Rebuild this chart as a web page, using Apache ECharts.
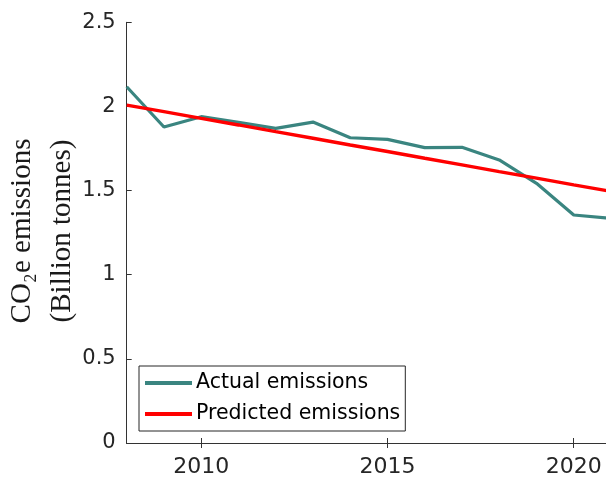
<!DOCTYPE html>
<html>
<head>
<meta charset="utf-8">
<script src="https://cdn.jsdelivr.net/npm/echarts@6/dist/echarts.min.js"></script>
<style>
  html, body { margin: 0; padding: 0; overflow: hidden; background: #fff; }
  #chart { width: 612px; height: 479px; }
</style>
</head>
<body>
<div id="chart"></div>
<script>
// Annual CO2e emissions (billion tonnes), 2008-2021
const years = [2008, 2009, 2010, 2011, 2012, 2013, 2014, 2015, 2016, 2017, 2018, 2019, 2020, 2021];
const actual = [2.117, 1.878, 1.939, 1.905, 1.870, 1.907, 1.814, 1.804, 1.755, 1.757, 1.682, 1.543, 1.355, 1.335];
const predicted = [2.008, 1.969, 1.929, 1.890, 1.850, 1.811, 1.771, 1.732, 1.692, 1.653, 1.613, 1.574, 1.534, 1.495];
const xTicks = [2010, 2015, 2020];
const yTicks = [0, 0.5, 1, 1.5, 2, 2.5];

const axisColor = '#333333';
const sansFont = 'DejaVu Sans, Verdana, sans-serif';

const chart = echarts.init(document.getElementById('chart'), null, { renderer: 'canvas' });

const pairs = (ys) => years.map((y, i) => [y, ys[i]]);

chart.setOption({
  animation: false,
  backgroundColor: '#ffffff',
  grid: { left: 126.7, top: 22.3, right: 1, bottom: 36, containLabel: false },
  xAxis: [
    {
      type: 'value', position: 'bottom', min: 2008, max: 2021,
      axisLine: { show: true, lineStyle: { color: axisColor, width: 1 } },
      axisTick: { show: true, inside: true, length: 5, customValues: xTicks, lineStyle: { color: axisColor } },
      axisLabel: {
        show: true, customValues: xTicks, margin: 13,
        fontFamily: sansFont, fontSize: 22, color: '#262626',
        formatter: v => String(v)
      },
      splitLine: { show: false }
    },
    {
      type: 'value', position: 'top', min: 2008, max: 2021,
      axisLine: { show: true, lineStyle: { color: axisColor, width: 1 } },
      axisTick: { show: true, inside: true, length: 5, customValues: xTicks, lineStyle: { color: axisColor } },
      axisLabel: { show: false },
      splitLine: { show: false }
    }
  ],
  yAxis: [
    {
      type: 'value', position: 'left', min: 0, max: 2.5, interval: 0.5,
      axisLine: { show: true, lineStyle: { color: axisColor, width: 1 } },
      axisTick: { show: true, inside: true, length: 5, lineStyle: { color: axisColor } },
      axisLabel: {
        show: true, customValues: yTicks, margin: 11,
        fontFamily: sansFont, fontSize: 21, color: '#262626',
        formatter: v => String(v)
      },
      splitLine: { show: false }
    },
    {
      type: 'value', position: 'right', min: 0, max: 2.5, interval: 0.5,
      axisLine: { show: true, lineStyle: { color: axisColor, width: 1 } },
      axisTick: { show: true, inside: true, length: 5, lineStyle: { color: axisColor } },
      axisLabel: { show: false },
      splitLine: { show: false }
    }
  ],
  legend: {
    orient: 'vertical',
    left: 139, top: 366,
    backgroundColor: '#ffffff',
    borderColor: '#262626', borderWidth: 1, borderRadius: 0,
    padding: [4, 5, 4, 6],
    itemGap: 5,
    itemWidth: 47, itemHeight: 4,
    icon: 'rect',
    textStyle: { fontFamily: sansFont, fontSize: 20.5, color: '#000', lineHeight: 26, padding: [0, 0, 0, -1] },
    data: ['Actual emissions', 'Predicted emissions']
  },
  graphic: [
    {
      type: 'text',
      x: 42, y: 231,
      rotation: Math.PI / 2,
      style: {
        text: 'CO\u2082e emissions\n(Billion tonnes)',
        align: 'center', verticalAlign: 'middle',
        fontFamily: 'Liberation Serif, DejaVu Serif, serif',
        fontSize: 29, lineHeight: 40, fill: '#1a1a1a'
      }
    }
  ],
  series: [
    {
      name: 'Actual emissions', type: 'line',
      data: pairs(actual),
      symbol: 'none', showSymbol: false,
      lineStyle: { color: '#3a8580', width: 3.2 },
      itemStyle: { color: '#3a8580' },
      z: 2
    },
    {
      name: 'Predicted emissions', type: 'line',
      data: pairs(predicted),
      symbol: 'none', showSymbol: false,
      lineStyle: { color: '#ff0000', width: 3.4 },
      itemStyle: { color: '#ff0000' },
      z: 3
    }
  ]
});
</script>
</body>
</html>
